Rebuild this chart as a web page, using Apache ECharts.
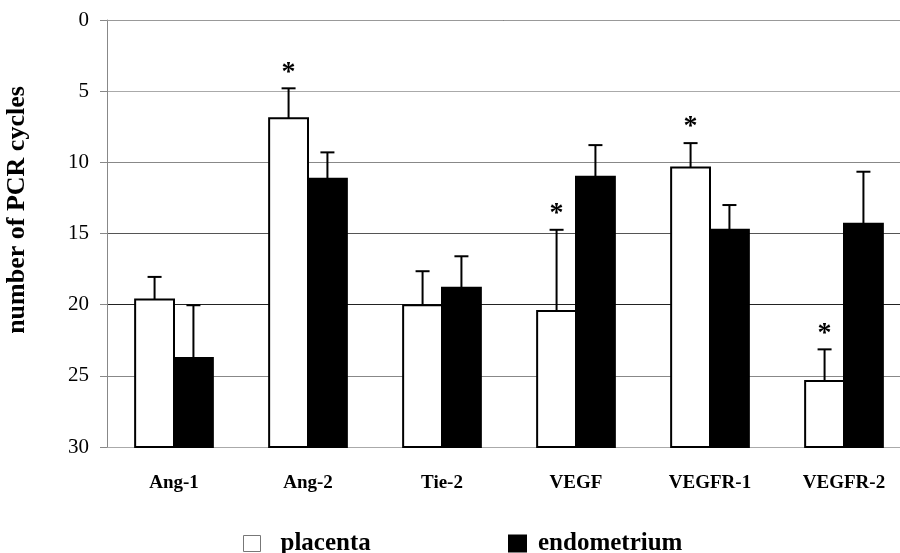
<!DOCTYPE html>
<html>
<head>
<meta charset="utf-8">
<script src="https://cdn.jsdelivr.net/npm/echarts@6/dist/echarts.min.js"></script>
<style>html,body{margin:0;padding:0;background:#fff;}#chart{width:900px;height:553px;}</style>
</head>
<body>
<div id="chart"></div>
<script>
// Data
const categories = ['Ang-1', 'Ang-2', 'Tie-2', 'VEGF', 'VEGFR-1', 'VEGFR-2'];
const placentaMean = [19.64, 6.91, 20.04, 20.44, 10.36, 25.36];
const placentaSD = [1.59, 2.11, 2.39, 5.70, 1.71, 2.22];
const placentaSig = [false, true, false, true, true, true];
const endometriumMean = [23.74, 11.16, 18.82, 11.02, 14.74, 14.32];
const endometriumSD = [3.70, 1.86, 2.22, 2.23, 1.74, 3.66];
const endometriumSig = [false, false, false, false, false, false];
const yTicks = [0, 5, 10, 15, 20, 25, 30];

const FONT = "'Liberation Serif', 'Times New Roman', serif";
const Y_MIN = yTicks[0], Y_MAX = yTicks[yTicks.length - 1];

function makeRender(side, fill) {
  return function (params, api) {
    const idx = api.value(0);
    const v = api.value(1);
    const sd = api.value(2);
    const sig = api.value(3);
    const top = api.coord([idx, v]);
    const base = api.coord([idx, Y_MAX]);
    const band = api.size([1, 0])[0];
    const w = band * 0.29;
    const x0 = side < 0 ? top[0] - w : top[0];
    const cx = x0 + w / 2;
    const errTop = api.coord([idx, v - sd])[1];
    const children = [
      {
        type: 'rect',
        shape: { x: x0, y: top[1], width: w, height: base[1] - top[1] },
        style: { fill: fill, stroke: '#000', lineWidth: 2 }
      },
      {
        type: 'line',
        shape: { x1: cx, y1: top[1], x2: cx, y2: errTop },
        style: { stroke: '#000', lineWidth: 2 }
      },
      {
        type: 'line',
        shape: { x1: cx - 7, y1: errTop, x2: cx + 7, y2: errTop },
        style: { stroke: '#000', lineWidth: 2 }
      }
    ];
    if (sig) {
      children.push({
        type: 'text',
        style: {
          text: '*', x: cx, y: errTop - 16,
          align: 'center', verticalAlign: 'middle',
          font: 'bold 28px ' + FONT, fill: '#000'
        }
      });
    }
    return { type: 'group', children: children };
  };
}

const chart = echarts.init(document.getElementById('chart'), null, { renderer: 'canvas' });
chart.setOption({
  backgroundColor: '#fff',
  animation: false,
  grid: { left: 107, top: 20, width: 804, height: 427, containLabel: false, outerBoundsMode: 'none' },
  legend: [
    {
      left: 238, top: 526, itemWidth: 17, itemHeight: 16,
      data: [{ name: 'placenta', icon: 'rect', itemStyle: { color: '#fff', borderColor: '#777', borderWidth: 1 } }],
      textStyle: { fontFamily: FONT, fontWeight: 'bold', fontSize: 25, color: '#000', padding: [0, 0, 0, 15] }
    },
    {
      left: 503, top: 526, itemWidth: 19, itemHeight: 18,
      data: [{ name: 'endometrium', icon: 'rect', itemStyle: { color: '#000', borderWidth: 0 } }],
      textStyle: { fontFamily: FONT, fontWeight: 'bold', fontSize: 25, color: '#000', padding: [0, 0, 0, 6] }
    }
  ],
  xAxis: {
    type: 'category',
    data: categories,
    axisTick: { show: false },
    axisLine: { lineStyle: { color: '#999', width: 1 } },
    axisLabel: { fontFamily: FONT, fontWeight: 'bold', fontSize: 19, color: '#000', margin: 27 },
    splitLine: { show: false }
  },
  yAxis: {
    type: 'value',
    inverse: true,
    min: Y_MIN, max: Y_MAX, interval: 5,
    name: 'number of PCR cycles',
    nameLocation: 'middle',
    nameRotate: 90,
    nameGap: 77,
    nameTextStyle: { fontFamily: FONT, fontWeight: 'bold', fontSize: 26, color: '#000', padding: [0, 0, 0, 47] },
    axisLine: { show: true, lineStyle: { color: '#888', width: 1 } },
    axisTick: { show: true, length: 7, lineStyle: { color: '#888' } },
    axisLabel: { fontFamily: FONT, fontSize: 21, color: '#000', margin: 18,
      formatter: function (v) { return yTicks.indexOf(v) >= 0 ? String(v) : ''; } },
    splitLine: { show: true, lineStyle: { color: ['#222', '#aaa', '#888', '#555', '#222', '#888', '#aaa'], width: 1 } }
  },
  series: [
    {
      name: 'placenta',
      type: 'custom',
      itemStyle: { color: '#fff', borderColor: '#000' },
      renderItem: makeRender(-1, '#fff'),
      encode: { x: 0, y: 1 },
      data: placentaMean.map(function (v, i) { return [i, v, placentaSD[i], placentaSig[i] ? 1 : 0]; }),
      clip: false
    },
    {
      name: 'endometrium',
      type: 'custom',
      itemStyle: { color: '#000' },
      renderItem: makeRender(1, '#000'),
      encode: { x: 0, y: 1 },
      data: endometriumMean.map(function (v, i) { return [i, v, endometriumSD[i], endometriumSig[i] ? 1 : 0]; }),
      clip: false
    }
  ]
});
</script>
</body>
</html>
